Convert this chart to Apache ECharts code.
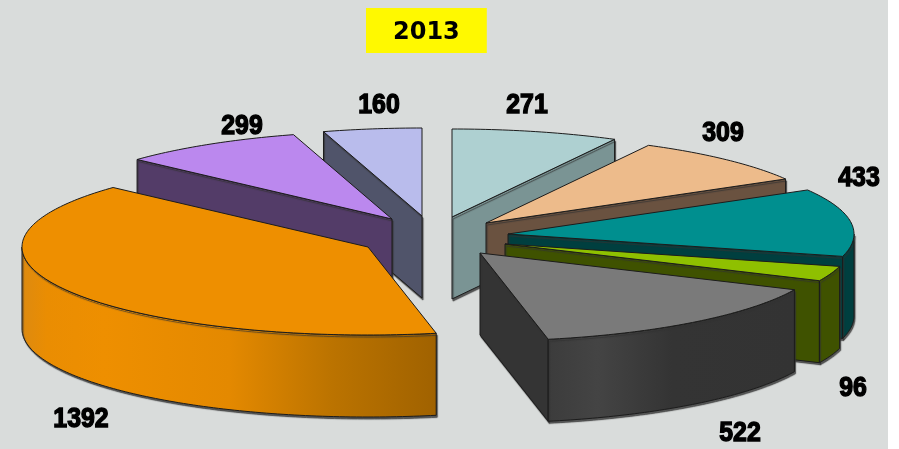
<!DOCTYPE html>
<html>
<head>
<meta charset="utf-8">
<style>
html,body{margin:0;padding:0;background:#fff;overflow:hidden}
#chart{width:888px;height:449px}
</style>
<script src="https://cdn.jsdelivr.net/npm/echarts@6/dist/echarts.min.js"></script>
</head>
<body>
<div id="chart"></div>
<script>
// Data, clockwise from 12 o'clock
const titleText = '2013';
const sliceValues = [271, 309, 433, 96, 522, 1392, 299, 160];

// Styling and layout, same order as sliceValues
const topColors  = ['#aed0d1', '#edbb8b', '#008f8f', '#8fc000', '#7a7a7a', '#ee8f00', '#bb88ee', '#b9bcec'];
const wallColors = ['#7a9494', '#6a5240', '#003f3f', '#3f5200', '#343434', '#ec8e00', '#533c68', '#50546a'];
const explode = [[12,-18],[46,-12],[68,-1],[65,9],[40,18],[-72,12],[-48,-16],[-18,-19]];
const labelAt = [[527,106],[723,134],[859,179],[853,389],[740,434],[81,420],[242,127],[379,106]];
const paintOrder = [0, 7, 1, 6, 2, 3, 5, 4];
const pieCenter = [440, 235];
const radiusX = 346, radiusY = 88, depth = 82;

const total = sliceValues.reduce((a, b) => a + b, 0);
const starts = [];
sliceValues.reduce((acc, v, i) => { starts[i] = acc; return acc + v; }, 0);

function wallFill(i) {
  if (i === 5) { // orange rim shading
    return new echarts.graphic.LinearGradient(22, 0, 436, 0, [
      {offset: 0, color: '#dd8a10'}, {offset: 0.06, color: '#ea8d02'}, {offset: 0.2, color: '#ee8f00'},
      {offset: 0.5, color: '#e48900'}, {offset: 0.75, color: '#bb7300'}, {offset: 1, color: '#a06200'}
    ], true);
  }
  if (i === 4) {
    return new echarts.graphic.LinearGradient(548, 0, 796, 0, [
      {offset: 0, color: '#3c3c3c'}, {offset: 0.2, color: '#444444'}, {offset: 0.5, color: '#343434'}, {offset: 1, color: '#333333'}
    ], true);
  }
  return wallColors[i];
}

function renderSlice(params, api) {
  const value = api.value(0), i = api.value(1);
  const a0 = starts[i] / total * 2 * Math.PI;
  const a1 = (starts[i] + value) / total * 2 * Math.PI;
  const ax = pieCenter[0] + explode[i][0], ay = pieCenter[1] + explode[i][1];
  const pt = (a, dy) => [ax + radiusX * Math.sin(a), ay - radiusY * Math.cos(a) + (dy || 0)];
  const arc = (from, to, dy) => {
    const n = Math.max(2, Math.ceil(Math.abs(to - from) * 60)), out = [];
    for (let k = 0; k <= n; k++) out.push(pt(from + (to - from) * k / n, dy));
    return out;
  };
  const edge = {stroke: '#1c1c1c', lineWidth: 1, lineJoin: 'round'};
  const poly = (points, fill, extra) => ({
    type: 'polygon', shape: {points}, style: Object.assign({fill}, edge, extra || {})
  });
  const children = [];
  const dropShadow = {shadowColor: 'rgba(50,50,50,0.8)', shadowOffsetX: 1, shadowOffsetY: 2, shadowBlur: 1};
  // radial walls that face the viewer
  if (Math.sin(a0) < 0) {
    const p = pt(a0);
    children.push(poly([[ax, ay], p, [p[0], p[1] + depth], [ax, ay + depth]], wallColors[i], dropShadow));
  }
  if (Math.sin(a1) > 0) {
    const p = pt(a1);
    children.push(poly([[ax, ay], p, [p[0], p[1] + depth], [ax, ay + depth]], wallColors[i], dropShadow));
  }
  // outer rim, front half only
  const lo = Math.max(a0, Math.PI / 2), hi = Math.min(a1, 1.5 * Math.PI);
  if (hi > lo) {
    children.push(poly(arc(lo, hi, 0).concat(arc(hi, lo, depth)), wallFill(i), dropShadow));
  }
  // top face
  children.push(poly([[ax, ay]].concat(arc(a0, a1, 0)), topColors[i]));
  return {type: 'group', children};
}

function renderLabel(params, api) {
  const i = api.value(1);
  return {
    type: 'text', x: labelAt[i][0], y: labelAt[i][1], scaleX: 0.92,
    style: {
      text: String(api.value(0)), font: 'bold 27px "Liberation Sans", Arial, sans-serif',
      fill: '#000', stroke: '#000', lineWidth: 1.4, align: 'center', verticalAlign: 'middle',
      shadowColor: 'rgba(40,40,40,0.7)', shadowBlur: 2, shadowOffsetX: 1, shadowOffsetY: 1
    }
  };
}

const chart = echarts.init(document.getElementById('chart'), null, {renderer: 'canvas'});
chart.setOption({
  animation: false,
  backgroundColor: '#d9dcdb',
  title: {
    text: titleText, left: 366, top: 8,
    padding: [12, 27, 8, 27], backgroundColor: '#fff900',
    textStyle: {fontFamily: '"DejaVu Sans", Verdana, sans-serif', fontWeight: 'bold', fontSize: 24, color: '#000', lineHeight: 25}
  },
  series: [
    {type: 'custom', coordinateSystem: 'none', renderItem: renderSlice, silent: true,
     data: paintOrder.map(i => [sliceValues[i], i])},
    {type: 'custom', coordinateSystem: 'none', renderItem: renderLabel, silent: true, z: 5,
     data: sliceValues.map((v, i) => [v, i])}
  ]
});
</script>
</body>
</html>
